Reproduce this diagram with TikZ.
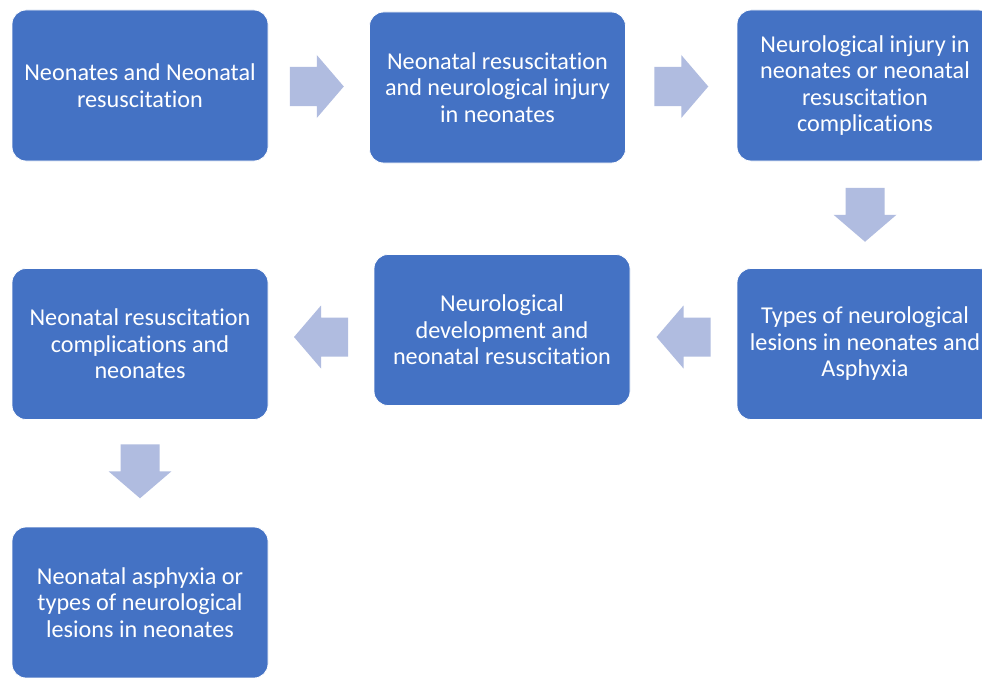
\documentclass[tikz,border=0pt]{standalone}
\usepackage{fontspec}
\setmainfont{Carlito}[RawFeature={-liga}]
\usetikzlibrary{calc}
\definecolor{boxblue}{HTML}{4472C4}
\definecolor{arrowblue}{HTML}{B0BCE0}
\begin{document}
\begin{tikzpicture}[x=1pt,y=-1pt,
  box/.style={draw=white, line width=0.8pt, fill=boxblue, rounded corners=14pt,
    minimum width=256pt, minimum height=151pt, text=white, align=center,
    font=\fontsize{24.2}{26.5}\selectfont, inner sep=0pt},
  blockarrow/.pic={\fill[arrowblue] (-27,-19.5) -- (0,-19.5) -- (0,-31.5) -- (27,0)
     -- (0,31.5) -- (0,19.5) -- (-27,19.5) -- cycle;}]
\clip (0,0) rectangle (982,677);
\fill[white] (0,0) rectangle (982,677);
\node[box] (b1) at (140,85.5) {Neonates and Neonatal\\resuscitation};
\node[box] (b2) at (497.5,87.5) {Neonatal resuscitation\\and neurological injury\\in neonates};
\node[box] (b3) at (865,85.5) {Neurological injury in\\neonates or neonatal\\resuscitation\\complications};
\node[box] (b4) at (865,344) {Types of neurological\\lesions in neonates and\\Asphyxia};
\node[box] (b5) at (502,330) {Neurological\\development and\\neonatal resuscitation};
\node[box] (b6) at (140,344) {Neonatal resuscitation\\complications and\\neonates};
\node[box] (b7) at (140,602.5) {Neonatal asphyxia or\\types of neurological\\lesions in neonates};
\pic at ($(b1.east)!0.5!(b2.west)+(-2,0)$) {blockarrow};
\pic at ($(b2.east)!0.5!(b3.west)$) {blockarrow};
\pic[rotate=-90] at ($(b3.south)!0.5!(b4.north)$) {blockarrow};
\pic[rotate=180] at ($(b4.west)!0.5!(b5.east)$) {blockarrow};
\pic[rotate=180] at ($(b5.west)!0.5!(b6.east)$) {blockarrow};
\pic[rotate=-90] at ($(b6.south)!0.5!(b7.north)+(0,-2)$) {blockarrow};
\end{tikzpicture}
\end{document}
